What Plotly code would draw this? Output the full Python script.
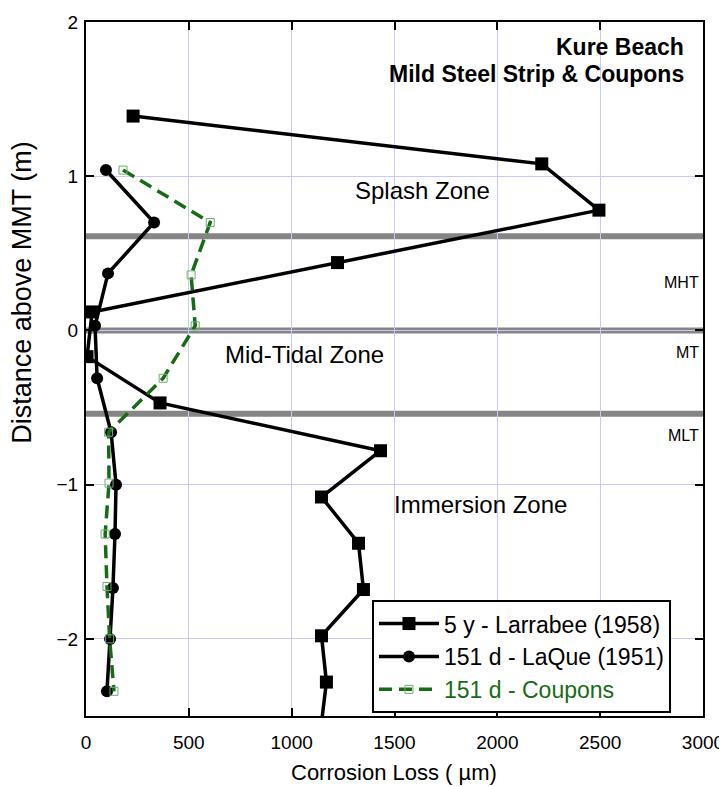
import plotly.graph_objects as go

# Larrabee 5 y (squares)
lar_x = [229, 2216, 2494, 1223, 30, 5, 360, 1432, 1145, 1325, 1349, 1145, 1169, 1140]
lar_y = [1.39, 1.08, 0.78, 0.44, 0.12, -0.17, -0.47, -0.78, -1.08, -1.38, -1.68, -1.98, -2.28, -2.6]

# LaQue 151 d (circles)
laq_x = [97, 331, 107, 44, 54, 122, 146, 141, 131, 117, 102]
laq_y = [1.04, 0.70, 0.37, 0.03, -0.31, -0.66, -1.0, -1.32, -1.67, -2.0, -2.34]

# Coupons 151 d (hollow squares, dashed)
cou_x = [180, 604, 511, 531, 375, 110, 112, 93, 102, 115, 136]
cou_y = [1.04, 0.70, 0.36, 0.03, -0.31, -0.66, -0.99, -1.32, -1.66, -2.0, -2.34]

# Tide levels
level_names = ["MHT", "MT", "MLT"]
level_y = [0.61, 0.0, -0.54]
level_label_y = [0.31, -0.14, -0.68]

zone_names = ["Splash Zone", "Mid-Tidal Zone", "Immersion Zone"]
zone_x = [1637, 1062, 1919]
zone_y = [0.91, -0.155, -1.13]

FONT = "Liberation Sans, Arial, sans-serif"
GREEN = "#176b17"

fig = go.Figure()

for ly in level_y:
    fig.add_shape(type="line", xref="paper", yref="y", x0=0, x1=1, y0=ly, y1=ly,
                  line=dict(color="#858585", width=6), layer="below")

fig.add_trace(go.Scatter(x=lar_x, y=lar_y, mode="lines+markers",
                         name="5 y - Larrabee (1958)",
                         line=dict(color="black", width=3.5),
                         marker=dict(symbol="square", size=13, color="black")))
fig.add_trace(go.Scatter(x=laq_x, y=laq_y, mode="lines+markers",
                         name="151 d - LaQue (1951)",
                         line=dict(color="black", width=3.5),
                         marker=dict(symbol="circle", size=12, color="black")))
fig.add_trace(go.Scatter(x=cou_x, y=cou_y, mode="lines+markers",
                         name="<span style='color:%s'>151 d - Coupons</span>" % GREEN,
                         line=dict(color=GREEN, width=3.5, dash="13px,7px"),
                         marker=dict(symbol="square-open", size=8, color="#6fae6f",
                                     line=dict(width=1, color="#6fae6f"))))

for name, ly in zip(level_names, level_label_y):
    fig.add_annotation(x=2990, y=ly, xref="x", yref="y", text=name, showarrow=False,
                       xanchor="right", yanchor="middle",
                       font=dict(family=FONT, size=16, color="black"))

for name, zx, zy in zip(zone_names, zone_x, zone_y):
    fig.add_annotation(x=zx, y=zy, xref="x", yref="y", text=name, showarrow=False,
                       xanchor="center", yanchor="middle",
                       font=dict(family=FONT, size=24, color="black"))

fig.add_annotation(x=2915, y=1.84, xref="x", yref="y", text="<b>Kure Beach</b>",
                   showarrow=False, xanchor="right", yanchor="middle",
                   font=dict(family=FONT, size=23, color="black"))
fig.add_annotation(x=2915, y=1.665, xref="x", yref="y", text="<b>Mild Steel Strip &amp; Coupons</b>",
                   showarrow=False, xanchor="right", yanchor="middle",
                   font=dict(family=FONT, size=23, color="black"))

# axis titles as annotations for precise placement
fig.add_annotation(x=0.499, y=-0.082, xref="paper", yref="paper", text="Corrosion Loss ( µm)",
                   showarrow=False, xanchor="center", yanchor="middle",
                   font=dict(family=FONT, size=22, color="black"))
fig.add_annotation(x=-0.104, y=0.611, xref="paper", yref="paper", text="Distance above MMT (m)",
                   showarrow=False, xanchor="center", yanchor="middle", textangle=-90,
                   font=dict(family=FONT, size=27, color="black"))

axis_common = dict(showline=True, linecolor="black", linewidth=2, mirror="ticks",
                   ticks="inside", ticklen=8, tickwidth=2, tickcolor="black",
                   showgrid=True, gridcolor="#c9c9f5", gridwidth=1, zeroline=False,
                   automargin=False,
                   tickfont=dict(family=FONT, size=19, color="black"))

fig.update_xaxes(range=[0, 3000], dtick=500, tick0=0, ticklabelstandoff=8, **axis_common)
fig.update_yaxes(range=[-2.5, 2], dtick=1, tick0=0, ticklabelstandoff=2, **axis_common)

fig.update_layout(
    width=727, height=787,
    margin=dict(l=78, r=32, t=14, b=79),
    plot_bgcolor="white", paper_bgcolor="white",
    font=dict(family=FONT, color="black"),
    showlegend=True,
    legend=dict(x=0.4635, y=0.167, xanchor="left", yanchor="top",
                bgcolor="white", bordercolor="black", borderwidth=2,
                font=dict(family=FONT, size=23, color="black"),
                tracegroupgap=0, itemwidth=60),
)

fig.write_html("out.html")
